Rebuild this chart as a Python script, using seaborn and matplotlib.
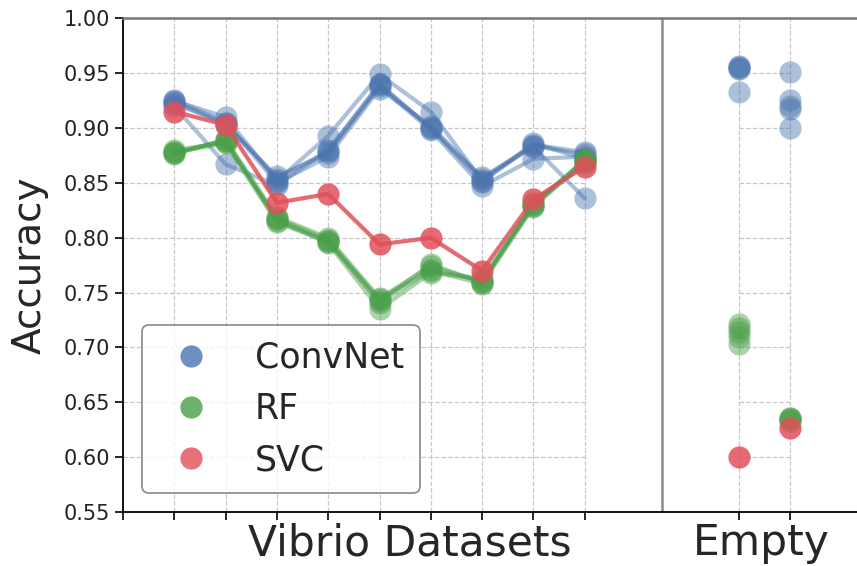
import numpy as np
import pandas as pd
import matplotlib
matplotlib.use("Agg")
import matplotlib.pyplot as plt
from matplotlib.lines import Line2D
import seaborn as sns

# ---------------- data ----------------
models = ["ConvNet", "RF", "SVC"]
vibrio_pos = [1, 2, 3, 4, 5, 6, 7, 8, 9]
empty_pos = [12, 13]

convnet_runs = [
    [0.926, 0.905, 0.854, 0.879, 0.940, 0.900, 0.854, 0.885, 0.878],
    [0.925, 0.910, 0.852, 0.893, 0.949, 0.915, 0.852, 0.884, 0.876],
    [0.924, 0.903, 0.856, 0.877, 0.938, 0.898, 0.847, 0.872, 0.874],
    [0.922, 0.905, 0.850, 0.874, 0.936, 0.902, 0.855, 0.883, 0.836],
    [0.920, 0.867, 0.848, 0.880, 0.940, 0.900, 0.851, 0.886, 0.872],
]
rf_runs = [
    [0.878, 0.888, 0.818, 0.798, 0.744, 0.771, 0.761, 0.831, 0.869],
    [0.877, 0.889, 0.815, 0.797, 0.742, 0.776, 0.759, 0.830, 0.871],
    [0.880, 0.887, 0.817, 0.795, 0.735, 0.768, 0.763, 0.829, 0.868],
    [0.876, 0.890, 0.819, 0.800, 0.745, 0.774, 0.760, 0.832, 0.870],
    [0.878, 0.886, 0.814, 0.796, 0.741, 0.770, 0.758, 0.828, 0.872],
]
svc_run = [0.915, 0.903, 0.832, 0.840, 0.794, 0.800, 0.770, 0.835, 0.865]

convnet_empty = [[0.957, 0.955, 0.954, 0.933, 0.956],
                 [0.951, 0.926, 0.920, 0.917, 0.900]]
rf_empty = [[0.721, 0.718, 0.714, 0.703, 0.710],
            [0.636, 0.635, 0.634, 0.636, 0.633]]
svc_empty = [[0.600], [0.627]]

yticks = [0.55, 0.60, 0.65, 0.70, 0.75, 0.80, 0.85, 0.90, 0.95, 1.00]
colors = {"ConvNet": "#4a74ae", "RF": "#4a9f4a", "SVC": "#e0505a"}

# ---------------- tidy frames ----------------
rows = []
for name, runs in [("ConvNet", convnet_runs), ("RF", rf_runs), ("SVC", [svc_run])]:
    for r, vals in enumerate(runs):
        for p, v in zip(vibrio_pos, vals):
            rows.append({"model": name, "run": r, "pos": p, "acc": v})
df_main = pd.DataFrame(rows)

rows = []
for name, groups in [("ConvNet", convnet_empty), ("RF", rf_empty), ("SVC", svc_empty)]:
    for p, vals in zip(empty_pos, groups):
        for v in vals:
            rows.append({"model": name, "pos": p, "acc": v})
df_empty = pd.DataFrame(rows)

# ---------------- figure ----------------
sns.set_style("ticks")
plt.rcParams["font.family"] = ["DejaVu Sans"]

fig = plt.figure(figsize=(8.57, 5.66), dpi=100)
ax = fig.add_axes([0.1435, 0.0954, 0.898, 0.872])

alphas = {"ConvNet": 0.45, "RF": 0.45, "SVC": 0.85}
for name in models:
    sub = df_main[df_main.model == name]
    sns.lineplot(data=sub, x="pos", y="acc", units="run", estimator=None,
                 color=colors[name], marker="o", markersize=16,
                 markeredgewidth=0, linewidth=3, alpha=alphas[name],
                 legend=False, ax=ax, zorder=3)
    sube = df_empty[df_empty.model == name]
    sns.scatterplot(data=sube, x="pos", y="acc", color=colors[name], s=256,
                    linewidth=0, alpha=alphas[name],
                    legend=False, ax=ax, zorder=3)

# grid
ax.set_xticks([0, 1, 2, 3, 4, 5, 6, 7, 8, 9, 12, 13])
ax.set_xticklabels([])
ax.xaxis.grid(True, linestyle="--", color="#c8c8c8", linewidth=0.9)
gy = yticks[1:-1]
ax.hlines(gy, 0, 9, linestyles="--", colors="#c8c8c8", linewidth=0.9, zorder=1)
ax.hlines(gy, 12, 13, linestyles="--", colors="#c8c8c8", linewidth=0.9, zorder=1)
ax.axvline(10.5, color="#8a8a8a", linewidth=1.8, zorder=2)

ax.set_xlim(0, 15)
ax.set_ylim(0.55, 1.00)
ax.set_yticks(yticks)
ax.set_yticklabels([f"{t:.2f}" for t in yticks], fontsize=15, color="#222222")
ax.tick_params(axis="both", direction="out", length=6, width=1.2, color="black")
ax.set_xlabel("")
ax.set_ylabel("Accuracy", fontsize=28)
ax.yaxis.set_label_coords(-0.097, 0.5)

for s in ["left", "bottom"]:
    ax.spines[s].set_color("black")
    ax.spines[s].set_linewidth(1.3)
ax.spines["top"].set_color("#777777")
ax.spines["top"].set_linewidth(1.8)
ax.spines["right"].set_visible(False)

trans = matplotlib.transforms.blended_transform_factory(ax.transData, ax.transAxes)
ax.text(5.6, -0.063, "Vibrio Datasets", transform=trans, ha="center", va="center", fontsize=30.5)
ax.text(12.45, -0.063, "Empty", transform=trans, ha="center", va="center", fontsize=30.5)

handles = [Line2D([], [], linestyle="none", marker="o", markersize=16,
                  markeredgewidth=0, color=colors[m], alpha=0.8) for m in models]
leg = ax.legend(handles, models, loc="lower left", bbox_to_anchor=(0.025, 0.038),
                borderaxespad=0, fontsize=25, frameon=True, fancybox=True,
                handletextpad=0.9, labelspacing=0.5, borderpad=0.45,
                handlelength=1.9)
leg.get_frame().set_edgecolor("#777777")
leg.get_frame().set_linewidth(1.3)

fig.savefig("out.png", dpi=100)
